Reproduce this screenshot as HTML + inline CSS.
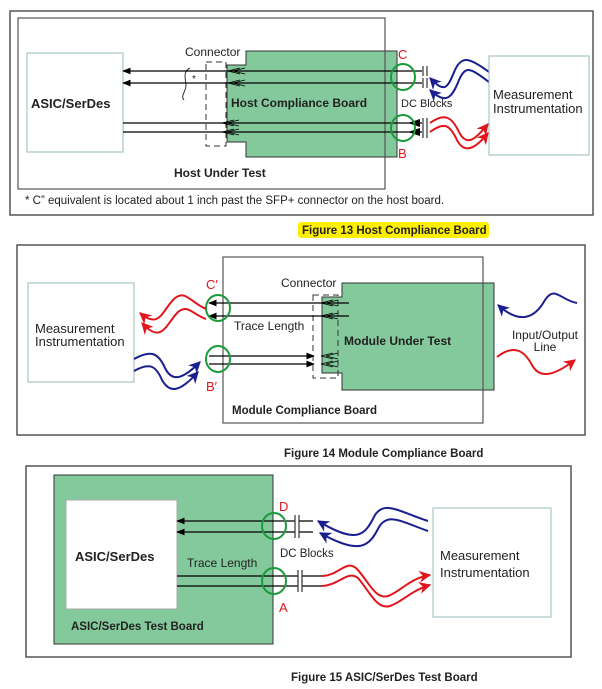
<!DOCTYPE html>
<html><head><meta charset="utf-8"><style>
html,body{margin:0;padding:0;background:#fff}
svg{display:block}
text{font-family:"Liberation Sans",sans-serif;font-size:12px;fill:#222}
.b{font-weight:bold}
</style></head><body>
<svg width="602" height="689" viewBox="0 0 602 689" xmlns="http://www.w3.org/2000/svg">
<defs>
<marker id="ak" viewBox="0 0 10 10" refX="9" refY="5" markerWidth="7" markerHeight="7" orient="auto"><path d="M0,1 L10,5 L0,9 z" fill="#000"/></marker>
<marker id="ab" viewBox="0 0 10 10" refX="9" refY="5" markerWidth="6" markerHeight="6" orient="auto"><path d="M0,0 L10,5 L0,10 L3,5 z" fill="#1a1f8f"/></marker>
<marker id="ar" viewBox="0 0 10 10" refX="9" refY="5" markerWidth="6" markerHeight="6" orient="auto"><path d="M0,0 L10,5 L0,10 L3,5 z" fill="#e0161c"/></marker>
</defs>

<!-- ========== FIGURE 13 ========== -->
<rect x="10" y="11" width="583" height="204" fill="none" stroke="#555" stroke-width="1.5"/>
<rect x="18" y="18" width="367" height="171" fill="none" stroke="#555" stroke-width="1.2"/>
<rect x="27" y="53" width="96" height="99" fill="#fff" stroke="#9bb" stroke-width="1"/>
<path d="M246,51 H397 V157 H246 V142 H227 V65 H246 Z" fill="#84c99b" stroke="#333" stroke-width="1"/>
<line x1="385" y1="51" x2="385" y2="157" stroke="#555" stroke-width="1.2"/>
<rect x="206" y="62" width="20" height="84" fill="none" stroke="#333" stroke-dasharray="6,4"/>
<path d="M190,68 C182,72 186,80 186,85 C186,92 180,96 184,100" fill="none" stroke="#333"/>
<text x="192" y="82" style="font-size:10px">*</text>
<g stroke="#000" stroke-width="1.2">
<line x1="422" y1="71" x2="123" y2="71" marker-end="url(#ak)"/>
<line x1="422" y1="83" x2="123" y2="83" marker-end="url(#ak)"/>
<line x1="123" y1="123" x2="422" y2="123"/>
<line x1="123" y1="132" x2="422" y2="132"/>
</g>
<g stroke="#000" stroke-width="0.8" fill="none">
<path d="M240,68 L228,71 L240,74 M245,68 L233,71 L245,74"/>
<path d="M240,80 L228,83 L240,86 M245,80 L233,83 L245,86"/>
<path d="M234,120 L222,123 L234,126 M239,120 L227,123 L239,126"/>
<path d="M234,129 L222,132 L234,135 M239,129 L227,132 L239,135"/>
</g>
<path d="M408,123 L420,119 V127 Z M408,132 L420,128 V136 Z" fill="#000"/>
<g stroke="#333" stroke-width="1.2"><line x1="423" y1="66" x2="423" y2="76"/><line x1="427" y1="66" x2="427" y2="76"/><line x1="423" y1="78" x2="423" y2="88"/><line x1="427" y1="78" x2="427" y2="88"/><line x1="423" y1="118" x2="423" y2="128"/><line x1="427" y1="118" x2="427" y2="128"/><line x1="423" y1="128" x2="423" y2="138"/><line x1="427" y1="128" x2="427" y2="138"/></g>
<ellipse cx="403" cy="77" rx="12" ry="13" fill="none" stroke="#1a9a3a" stroke-width="2"/>
<ellipse cx="403" cy="128" rx="12" ry="13" fill="none" stroke="#1a9a3a" stroke-width="2"/>
<g fill="none" stroke-width="2">
<path d="M489,72 C470,58 462,55 455,70 C448,86 446,95 430,78" stroke="#1a1f8f" marker-end="url(#ab)"/>
<path d="M489,82 C470,68 466,65 459,80 C452,98 446,105 430,90" stroke="#1a1f8f" marker-end="url(#ab)"/>
<path d="M430,123 C445,112 452,118 458,130 C466,148 475,140 488,124" stroke="#e0161c" marker-end="url(#ar)"/>
<path d="M430,132 C445,121 450,126 456,138 C464,156 476,148 488,133" stroke="#e0161c" marker-end="url(#ar)"/>
</g>
<rect x="489" y="56" width="100" height="99" fill="#fff" stroke="#9bb" stroke-width="1"/>
<text x="185" y="56">Connector</text>
<text x="398" y="59" style="fill:#e0161c;font-size:13px">C</text>
<text x="398" y="158" style="fill:#e0161c;font-size:13px">B</text>
<text x="401" y="107" style="font-size:11px">DC Blocks</text>
<text x="493" y="99" style="font-size:13px">Measurement</text>
<text x="493" y="113" style="font-size:13px">Instrumentation</text>
<text x="31" y="108" class="b" style="font-size:13px">ASIC/SerDes</text>
<text x="231" y="107" class="b">Host Compliance Board</text>
<text x="174" y="177" class="b">Host Under Test</text>
<text x="25" y="204" style="font-size:11.5px">* C” equivalent is located about 1 inch past the SFP+ connector on the host board.</text>
<rect x="298" y="222" width="191" height="16" rx="3" fill="#ffef00"/>
<text x="302" y="234" class="b" style="font-size:11.5px">Figure 13  Host Compliance Board</text>

<!-- ========== FIGURE 14 ========== -->
<rect x="17" y="245" width="568" height="190" fill="none" stroke="#555" stroke-width="1.5"/>
<rect x="223" y="257" width="260" height="166" fill="none" stroke="#555" stroke-width="1.2"/>
<path d="M342,283 H494 V390 H342 V373 H322 V297 H342 Z" fill="#84c99b" stroke="#333" stroke-width="1"/>
<line x1="483" y1="283" x2="483" y2="390" stroke="#555" stroke-width="1.2"/>
<rect x="313" y="295" width="25" height="83" fill="none" stroke="#333" stroke-dasharray="6,4"/>
<g stroke="#000" stroke-width="1.2">
<line x1="349" y1="303" x2="209" y2="303" marker-end="url(#ak)"/>
<line x1="349" y1="316" x2="209" y2="316" marker-end="url(#ak)"/>
<line x1="209" y1="356" x2="314" y2="356" marker-end="url(#ak)"/>
<line x1="209" y1="364" x2="314" y2="364" marker-end="url(#ak)"/>
</g>
<g stroke="#000" stroke-width="0.8" fill="none">
<path d="M333,300 L321,303 L333,306 M338,300 L326,303 L338,306"/>
<path d="M333,313 L321,316 L333,319 M338,313 L326,316 L338,319"/>
<path d="M333,353 L321,356 L333,359 M338,353 L326,356 L338,359"/>
<path d="M333,361 L321,364 L333,367 M338,361 L326,364 L338,367"/>
</g>
<ellipse cx="218" cy="308" rx="12" ry="13" fill="none" stroke="#1a9a3a" stroke-width="2"/>
<ellipse cx="218" cy="359" rx="12" ry="13" fill="none" stroke="#1a9a3a" stroke-width="2"/>
<rect x="28" y="283" width="106" height="99" fill="#fff" stroke="#9bb" stroke-width="1"/>
<g fill="none" stroke-width="2">
<path d="M206,309 C190,302 186,290 175,298 C162,310 160,330 140,313" stroke="#e0161c" marker-end="url(#ar)"/>
<path d="M206,319 C192,314 188,304 178,312 C166,324 162,345 142,323" stroke="#e0161c" marker-end="url(#ar)"/>
<path d="M134,359 C150,350 158,352 165,368 C172,382 182,380 200,362" stroke="#1a1f8f" marker-end="url(#ab)"/>
<path d="M134,371 C150,362 156,366 162,380 C170,394 180,392 198,372" stroke="#1a1f8f" marker-end="url(#ab)"/>
<path d="M577,303 C560,300 555,285 545,300 C535,318 520,325 498,305" stroke="#1a1f8f" marker-end="url(#ab)"/>
<path d="M497,357 C515,343 525,352 532,365 C540,380 555,375 575,360" stroke="#e0161c" marker-end="url(#ar)"/>
</g>
<text x="281" y="287">Connector</text>
<text x="206" y="289" style="fill:#e0161c;font-size:13px">C′</text>
<text x="206" y="391" style="fill:#e0161c;font-size:13px">B′</text>
<text x="234" y="330">Trace Length</text>
<text x="35" y="333" style="font-size:13px">Measurement</text>
<text x="35" y="346" style="font-size:13px">Instrumentation</text>
<text x="344" y="345" class="b">Module Under Test</text>
<text x="545" y="339" text-anchor="middle">Input/Output</text>
<text x="545" y="351" text-anchor="middle">Line</text>
<text x="232" y="414" class="b" style="font-size:11.5px">Module Compliance Board</text>
<text x="284" y="457" class="b" style="font-size:11.5px">Figure 14  Module Compliance Board</text>

<!-- ========== FIGURE 15 ========== -->
<rect x="26" y="466" width="545" height="191" fill="none" stroke="#555" stroke-width="1.5"/>
<rect x="54" y="475" width="219" height="169" fill="#84c99b" stroke="#333" stroke-width="1"/>
<rect x="66" y="500" width="111" height="109" fill="#fff" stroke="#aaa" stroke-width="1"/>
<g stroke="#000" stroke-width="1.2">
<line x1="313" y1="521" x2="177" y2="521" marker-end="url(#ak)"/>
<line x1="313" y1="532" x2="177" y2="532" marker-end="url(#ak)"/>
<line x1="177" y1="576" x2="322" y2="576"/>
<line x1="177" y1="586" x2="322" y2="586"/>
</g>
<g stroke="#333" stroke-width="1.2" fill="#fff">
<rect x="295" y="515" width="4" height="12" stroke="none"/><line x1="295" y1="515" x2="295" y2="527"/><line x1="299" y1="515" x2="299" y2="527"/>
<rect x="295" y="526" width="4" height="12" stroke="none"/><line x1="295" y1="526" x2="295" y2="538"/><line x1="299" y1="526" x2="299" y2="538"/>
<rect x="298" y="570" width="4" height="12" stroke="none"/><line x1="298" y1="570" x2="298" y2="582"/><line x1="302" y1="570" x2="302" y2="582"/>
<rect x="298" y="580" width="4" height="12" stroke="none"/><line x1="298" y1="580" x2="298" y2="592"/><line x1="302" y1="580" x2="302" y2="592"/>
</g>
<ellipse cx="274" cy="526" rx="12" ry="13" fill="none" stroke="#1a9a3a" stroke-width="2"/>
<ellipse cx="274" cy="581" rx="12" ry="13" fill="none" stroke="#1a9a3a" stroke-width="2"/>
<g fill="none" stroke-width="2">
<path d="M428,521 C400,512 385,500 375,515 C365,535 358,545 318,521" stroke="#1a1f8f" marker-end="url(#ab)"/>
<path d="M428,531 C402,522 388,512 379,527 C369,547 360,555 320,533" stroke="#1a1f8f" marker-end="url(#ab)"/>
<path d="M322,576 C340,575 345,560 356,568 C368,580 375,600 388,596 C400,592 410,578 430,575" stroke="#e0161c" marker-end="url(#ar)"/>
<path d="M322,586 C340,585 347,570 358,578 C370,592 377,610 390,606 C402,602 412,590 430,585" stroke="#e0161c" marker-end="url(#ar)"/>
</g>
<rect x="433" y="508" width="118" height="109" fill="#fff" stroke="#9bb" stroke-width="1"/>
<text x="279" y="511" style="fill:#e0161c;font-size:13px">D</text>
<text x="279" y="612" style="fill:#e0161c;font-size:13px">A</text>
<text x="280" y="557" style="font-size:11.5px">DC Blocks</text>
<text x="187" y="567">Trace Length</text>
<text x="75" y="561" class="b" style="font-size:13px">ASIC/SerDes</text>
<text x="71" y="630" class="b" style="font-size:11.5px">ASIC/SerDes Test Board</text>
<text x="440" y="560" style="font-size:13px">Measurement</text>
<text x="440" y="577" style="font-size:13px">Instrumentation</text>
<text x="291" y="681" class="b" style="font-size:11.5px">Figure 15  ASIC/SerDes Test Board</text>
</svg>
</body></html>
